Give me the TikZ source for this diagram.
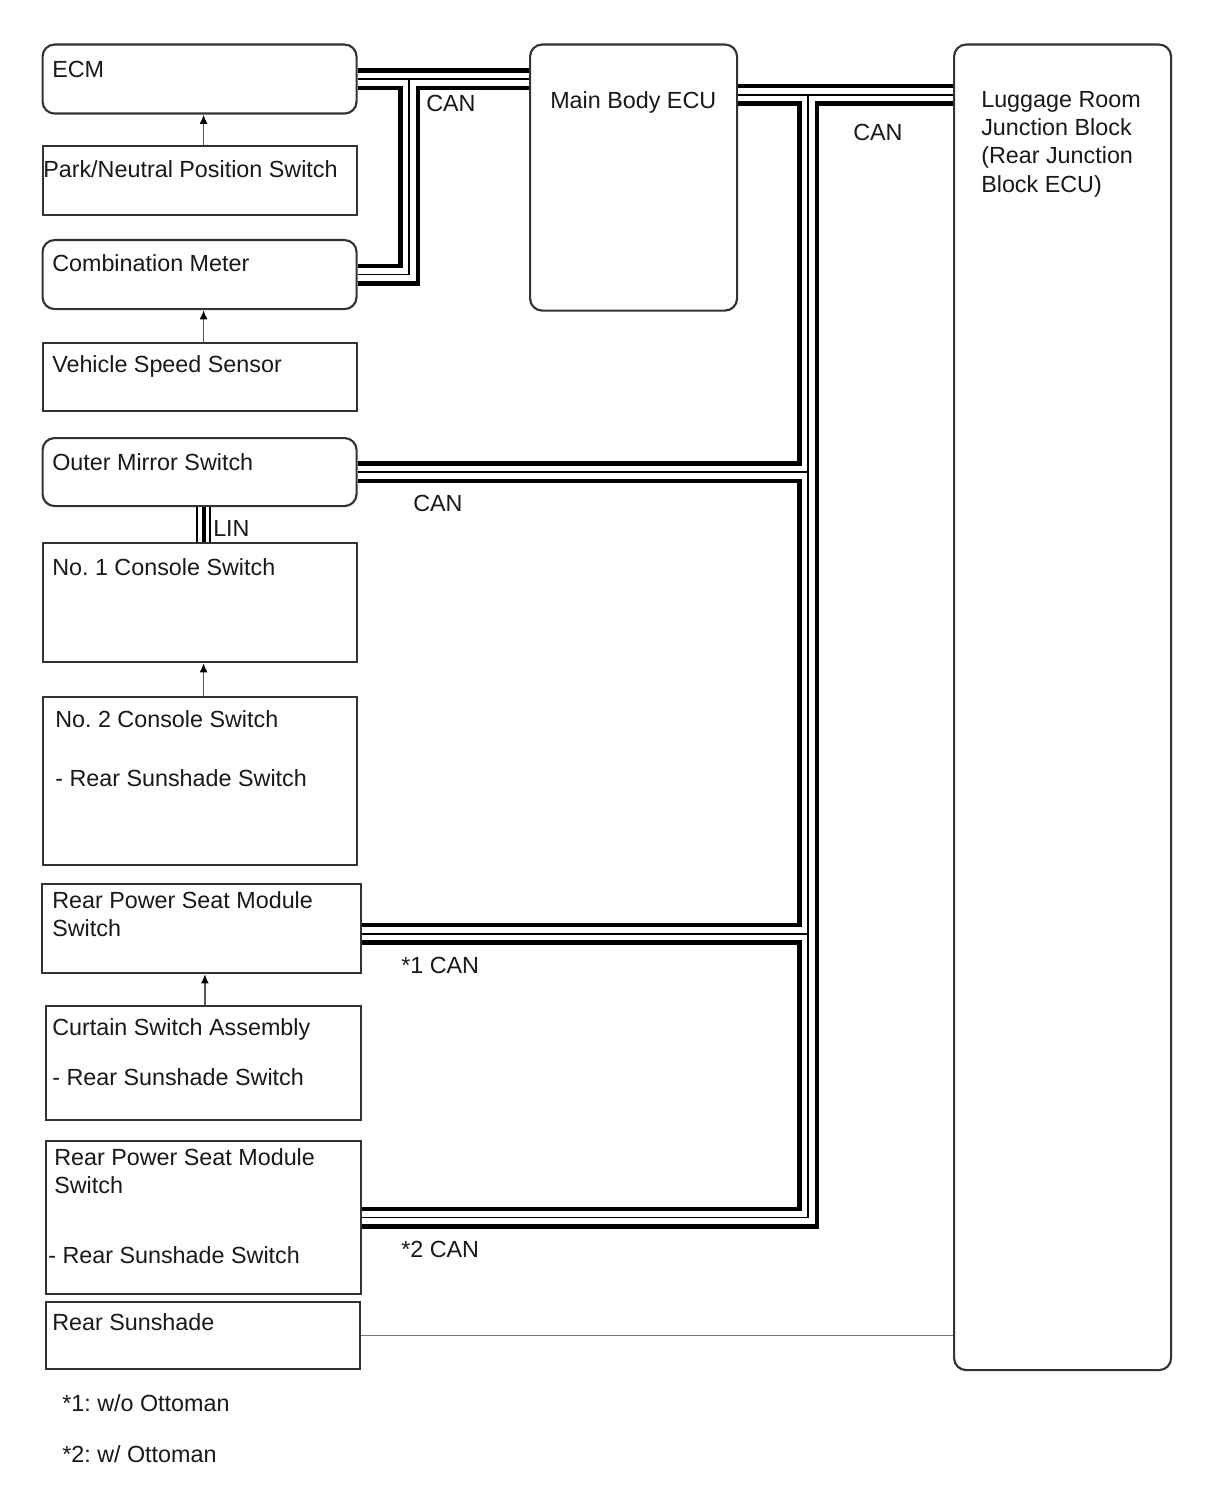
\documentclass[tikz,border=0pt]{standalone}
\usepackage{fontspec}
\setmainfont{Liberation Sans}
\usetikzlibrary{arrows.meta}

\tikzset{
  ecu/.style 2 args={draw=black!80, line width=1.6pt, rounded corners=9pt, anchor=north west, inner sep=0pt, minimum width=#1*0.75pt, minimum height=#2*0.75pt},
  sw/.style 2 args={draw=black!80, line width=1.6pt, anchor=north west, inner sep=0pt, minimum width=#1*0.75pt, minimum height=#2*0.75pt},
  txt/.style={anchor=north west, inner sep=0pt, align=left, text=black!90, font=\fontsize{17.5pt}{21.2pt}\selectfont\frenchspacing},
  sig/.style={draw=black!65, line width=1.1pt, -{Latex[length=7pt,width=6pt,black]}},
}

\begin{document}
\begin{tikzpicture}[x=0.75pt, y=-0.75pt]
\fill[white] (0,0) rectangle (1210,1498);
\useasboundingbox (0,0) rectangle (1210,1498);

% left column
\node (ecm) [ecu={314}{69}] at (41.5,43.5) {};
\node (pnp) [sw={314}{69}] at (41.5,145) {};
\node (combmeter) [ecu={314}{69}] at (41.5,239) {};
\node (vss) [sw={314}{68}] at (41.5,342) {};
\node (mirror) [ecu={314}{68}] at (41.5,437) {};
\node (console1) [sw={314}{119}] at (41.5,542) {};
\node (console2) [sw={314}{168}] at (41.5,696) {};
\node (rpsms1) [sw={319}{89}] at (41,883) {};
\node (curtain) [sw={315}{114}] at (45,1005) {};
\node (rpsms2) [sw={315}{153}] at (45,1140) {};
\node (sunshade) [sw={314}{67.5}] at (45,1300.5) {};

% ECUs
\node (mainbody) [ecu={207}{266}] at (529,43.5) {};
\node (luggage) [ecu={217}{1325.5}] at (953,43.5) {};

% CAN buses
\coordinate (t1) at (409,78);
\coordinate (t2) at (808,95);
\foreach \w/\c in {16.5pt/black, 9.75pt/white, 1.3pt/black}
  \draw[line width=\w, draw=\c]
    (ecm.east) -- (ecm.east -| mainbody.west)
    (t1) |- (combmeter.east)
    (mainbody.east |- t2) -- (luggage.west |- t2)
    (t2) |- (rpsms2.east)
    (mirror.east) -- (mirror.east -| t2)
    ([yshift=-4pt]rpsms1.east) -- ([yshift=-4pt]rpsms1.east -| t2);

% LIN
\foreach \w/\c in {11.25pt/black, 8.7pt/white, 3pt/black}
  \draw[line width=\w, draw=\c] ([xshift=3pt]mirror.south) -- ([xshift=3pt]console1.north);

\draw [sig] ([xshift=3pt]pnp.north) -- ([xshift=3pt]ecm.south);
\draw [sig] ([xshift=3pt]vss.north) -- ([xshift=3pt]combmeter.south);
\draw [sig] ([xshift=3pt]console2.north) -- ([xshift=3pt]console1.north |- console1.south);
\draw [sig] ([xshift=1pt]curtain.north) -- ([xshift=1pt]curtain.north |- rpsms1.south);
\draw [draw=black!55, line width=1.1pt] (sunshade.east) -- (sunshade.east -| luggage.west);

% texts
\node (ecmtxt) [txt] at (52,61) {ECM};
\node (pnptxt) [txt] at (43,160) {Park/Neutral Position Switch};
\node (combtxt) [txt] at (52,254) {Combination Meter};
\node (vsstxt) [txt] at (52,355) {Vehicle Speed Sensor};
\node (mirrortxt) [txt] at (52,453) {Outer Mirror Switch};
\node (con1txt) [txt] at (52,558) {No. 1 Console Switch};
\node (con2txt) [txt] at (55,710) {No. 2 Console Switch};
\node (con2sub) [txt] at (55,769) {- Rear Sunshade Switch};
\node (rps1txt) [txt] at (52,891) {Rear Power Seat Module\\Switch};
\node (curtxt) [txt] at (52,1018) {Curtain Switch Assembly};
\node (cursub) [txt] at (52,1068) {- Rear Sunshade Switch};
\node (rps2txt) [txt] at (54,1148) {Rear Power Seat Module\\Switch};
\node (rps2sub) [txt] at (48,1246) {- Rear Sunshade Switch};
\node (shadetxt) [txt] at (52,1313) {Rear Sunshade};
\node (mbtxt) [txt] at (550,91) {Main Body ECU};
\node (lugtxt) [txt] at (981,91) {Luggage Room\\Junction Block\\(Rear Junction\\Block ECU)};

\node (can1) [txt] at (426,95) {CAN};
\node (can2) [txt] at (853,124) {CAN};
\node (can3) [txt] at (413,495) {CAN};
\node (can4) [txt] at (401,957) {*1 CAN};
\node (can5) [txt] at (401,1241) {*2 CAN};
\node (lin) [txt] at (213,520) {LIN};

\node (note1) [txt] at (62,1394) {*1: w/o Ottoman};
\node (note2) [txt] at (62,1445) {*2: w/ Ottoman};
\end{tikzpicture}
\end{document}
